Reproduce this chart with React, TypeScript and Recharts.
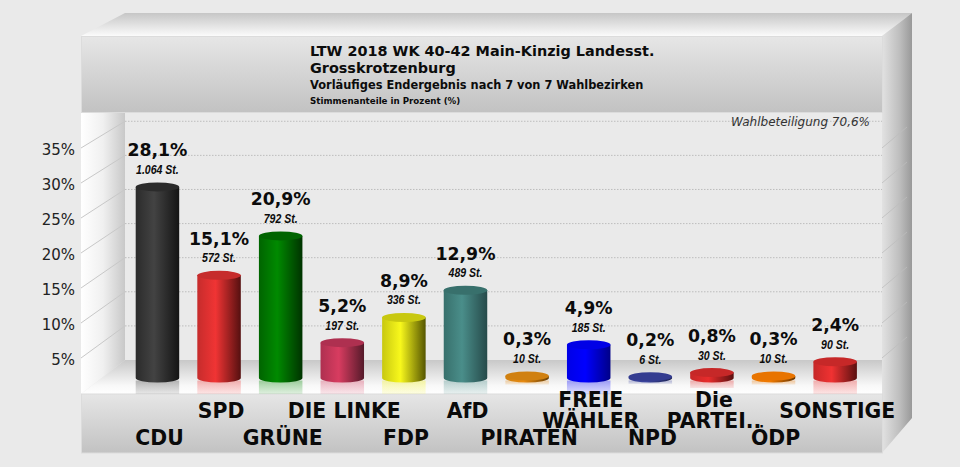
import React from "react";
import { BarChart, Bar, XAxis, YAxis, ReferenceLine, LabelList } from "recharts";

const parties = ["CDU", "SPD", "GRÜNE", "DIE LINKE", "FDP", "AfD", "PIRATEN", "FREIE WÄHLER", "NPD", "Die PARTEI..", "ÖDP", "SONSTIGE"];
const percents = [28.1, 15.1, 20.9, 5.2, 8.9, 12.9, 0.3, 4.9, 0.2, 0.8, 0.3, 2.4];
const votes = ["1.064", "572", "792", "197", "336", "489", "10", "185", "6", "30", "10", "90"];
const mainColors = ["#434343", "#f03434", "#008a00", "#d83c60", "#f8f81c", "#4a8e8a", "#e88a10", "#0000ff", "#3b459e", "#e82c2c", "#f07a00", "#f03232"];
const edgeColors = ["#141414", "#551010", "#003300", "#551a2a", "#555500", "#264a4a", "#6a4005", "#000088", "#1c2250", "#5a1010", "#6a3600", "#5a1010"];
const topColors = ["#2b2b2b", "#c62c2c", "#006400", "#ae3050", "#c8c810", "#38706c", "#d08010", "#0000e6", "#343c90", "#c62828", "#e87400", "#c62828"];
const gridTicks = [5, 10, 15, 20, 25, 30, 35];
const titleLines = ["LTW 2018 WK 40-42 Main-Kinzig Landesst.", "Grosskrotzenburg"];
const subtitle = "Vorläufiges Endergebnis nach 7 von 7 Wahlbezirken";
const unitLine = "Stimmenanteile in Prozent (%)";
const turnout = "Wahlbeteiligung 70,6%";

const data = parties.map((party, i) => ({ party, percent: percents[i], votes: votes[i], index: i }));

const SANS = "'DejaVu Sans', Verdana, sans-serif";
const chartMargin = { top: 112, left: 76.7, right: 94, bottom: 14 };

function Backdrop() {
  return (
    <svg width={960} height={467} style={{ position: "absolute", left: 0, top: 0 }}>
      <defs>
        <linearGradient id="panel" x1="0" y1="0" x2="0" y2="1">
          <stop offset="0" stopColor="#e6e6e6" />
          <stop offset="1" stopColor="#c2c2c2" />
        </linearGradient>
        <linearGradient id="lid" x1="0" y1="0" x2="0" y2="1">
          <stop offset="0" stopColor="#c6c6c6" />
          <stop offset="1" stopColor="#fbfbfb" />
        </linearGradient>
        <linearGradient id="wallL" x1="0" y1="0" x2="1" y2="0">
          <stop offset="0" stopColor="#ffffff" />
          <stop offset="0.5" stopColor="#f0f0f0" />
          <stop offset="1" stopColor="#c8c8c8" />
        </linearGradient>
        <linearGradient id="wallR" x1="0" y1="0" x2="1" y2="0">
          <stop offset="0" stopColor="#e2e2e2" />
          <stop offset="0.6" stopColor="#bdbdbd" />
          <stop offset="1" stopColor="#999999" />
        </linearGradient>
        <linearGradient id="floor" x1="0" y1="0" x2="0" y2="1">
          <stop offset="0" stopColor="#c8c8c8" />
          <stop offset="0.75" stopColor="#f8f8f8" />
          <stop offset="1" stopColor="#ffffff" />
        </linearGradient>
      </defs>
      <rect x={0} y={0} width={960} height={467} fill="#eaeaea" />
      <polygon points="81,36 125,13 912,13 882,36" fill="url(#lid)" />
      <polygon points="882,36 912,13 912,418 882,453" fill="url(#wallR)" />
      <polygon points="81,112 125,112 125,360 81,394" fill="url(#wallL)" />
      <polygon points="125,360 882,360 882,394 81,394" fill="url(#floor)" />
      <rect x={81.5} y={36.5} width={801} height={76} fill="url(#panel)" stroke="#dcdcdc" strokeWidth={1} />
      <rect x={81.5} y={394} width={801} height={59} fill="url(#panel)" stroke="#dcdcdc" strokeWidth={1} />
      <g fontFamily={SANS} fontWeight="bold" fill="#0c0c0c">
        <text x={310} y={56} fontSize={14.4}>{titleLines[0]}</text>
        <text x={310} y={73} fontSize={14.4}>{titleLines[1]}</text>
        <text x={310} y={89} fontSize={11.4}>{subtitle}</text>
        <text x={310} y={104} fontSize={8.7}>{unitLine}</text>
      </g>
    </svg>
  );
}

function Cylinder(props: any) {
  const { x, y, width, height, payload } = props;
  const i = payload.index;
  const rx = width / 2;
  const ry = 4.5;
  const cx = x + rx;
  const base = y + height;
  const gid = `body${i}`;
  const rid = `refl${i}`;
  const floorFront = 394;
  const reflTop = base + ry;
  const reflH = Math.min(floorFront - reflTop, height);
  return (
    <g>
      <defs>
        <linearGradient id={gid} x1="0" y1="0" x2="1" y2="0">
          <stop offset="0" stopColor={topColors[i]} />
          <stop offset="0.42" stopColor={mainColors[i]} />
          <stop offset="1" stopColor={edgeColors[i]} />
        </linearGradient>
        <linearGradient id={rid} x1="0" y1="0" x2="0" y2="1">
          <stop offset="0" stopColor={mainColors[i]} stopOpacity={0.35} />
          <stop offset="1" stopColor={mainColors[i]} stopOpacity={0.12} />
        </linearGradient>
      </defs>
      {reflH > 1 && <rect x={x} y={reflTop - 2} width={width} height={reflH + 2} fill={`url(#${rid})`} />}
      <path
        d={`M${x},${y} L${x},${base} A${rx},${ry} 0 0 0 ${x + width},${base} L${x + width},${y} Z`}
        fill={`url(#${gid})`}
      />
      <ellipse cx={cx} cy={y} rx={rx} ry={ry} fill={topColors[i]} />
    </g>
  );
}

function BarLabels(props: any) {
  const { x, y, width, index } = props;
  const cx = x + width / 2;
  return (
    <g>
      <text x={cx} y={y - 30.5} textAnchor="middle" fontFamily={SANS} fontWeight="bold" fontSize={17.3} fill="#0c0c0c">
        {percents[index].toFixed(1).replace(".", ",")}%
      </text>
      <text transform={`translate(${cx},${y - 13}) scale(0.78,1)`} textAnchor="middle" fontFamily="'Liberation Sans', sans-serif" fontWeight="bold" fontStyle="italic" fontSize={13.5} fill="#0c0c0c">
        {votes[index]} St.
      </text>
    </g>
  );
}

function PartyTick(props: any) {
  const { x, payload, index } = props;
  const words: string[] = payload.value === "FREIE WÄHLER" || payload.value === "Die PARTEI.." ? payload.value.split(" ") : [payload.value];
  const common = { x: x + 2, textAnchor: "middle" as const, fontFamily: SANS, fontWeight: "bold", fontSize: 20.4, fill: "#0a0a0a" };
  if (words.length === 2) {
    return (
      <g>
        <text {...common} y={407}>{words[0]}</text>
        <text {...common} y={428}>{words[1]}</text>
      </g>
    );
  }
  return <text {...common} y={index % 2 === 0 ? 445 : 418}>{words[0]}</text>;
}

function PercentTick(props: any) {
  return (
    <text x={75} y={props.y + 6} textAnchor="end" fontFamily={SANS} fontSize={15} fill="#222">
      {props.payload.value}%
    </text>
  );
}

function gridShape(value: number) {
  return (props: any) => {
    const y = props.y1 ?? props.y;
    const frontY = 393 - 7 * value;
    return (
      <g fill="none">
        <path d={`M81,${frontY} L125,${y}`} stroke="#c8c8c8" strokeWidth={1} />
        <path d={`M125,${y} L882,${y}`} stroke="#bdbdbd" strokeWidth={1} strokeDasharray="1.5 1.5" />
        <path d={`M882,${frontY} L907,${frontY - 21}`} stroke="#bcbcbc" strokeWidth={0.8} />
      </g>
    );
  };
}

export default function App() {
  return (
    <div style={{ position: "absolute", left: 0, top: 0, width: 960, height: 467, overflow: "hidden" }}>
      <Backdrop />
      <div style={{ position: "absolute", left: 0, top: 0 }}>
        <BarChart width={960} height={467} data={data} margin={chartMargin}>
          <XAxis dataKey="party" height={59} tick={false} axisLine={false} tickLine={false} />
          <YAxis yAxisId="wall" width={50} domain={[-4.985, 36.36]} allowDataOverflow tick={false} axisLine={false} tickLine={false} />
          {gridTicks.map((t) => (
            <ReferenceLine key={t} yAxisId="wall" y={t} shape={gridShape(t)} />
          ))}
        </BarChart>
      </div>
      <div style={{ position: "absolute", left: 0, top: 0 }}>
        <BarChart width={960} height={467} data={data} barSize={43.5} margin={chartMargin}>
          <XAxis dataKey="party" height={59} interval={0} axisLine={false} tickLine={false} tick={<PartyTick />} />
          <YAxis yAxisId="front" width={50} domain={[0, 40.29]} allowDataOverflow ticks={gridTicks} axisLine={false} tickLine={false} tick={<PercentTick />} />
          <YAxis yAxisId="bars" hide domain={[-2.35, 39.12]} allowDataOverflow />
          <Bar yAxisId="bars" dataKey="percent" isAnimationActive={false} shape={<Cylinder />}>
            <LabelList dataKey="percent" content={<BarLabels />} />
          </Bar>
        </BarChart>
      </div>
      <svg width={960} height={467} style={{ position: "absolute", left: 0, top: 0, pointerEvents: "none" }}>
        <text x={870} y={126} textAnchor="end" fontFamily={SANS} fontStyle="italic" fontSize={12} fill="#333">{turnout}</text>
      </svg>
    </div>
  );
}
